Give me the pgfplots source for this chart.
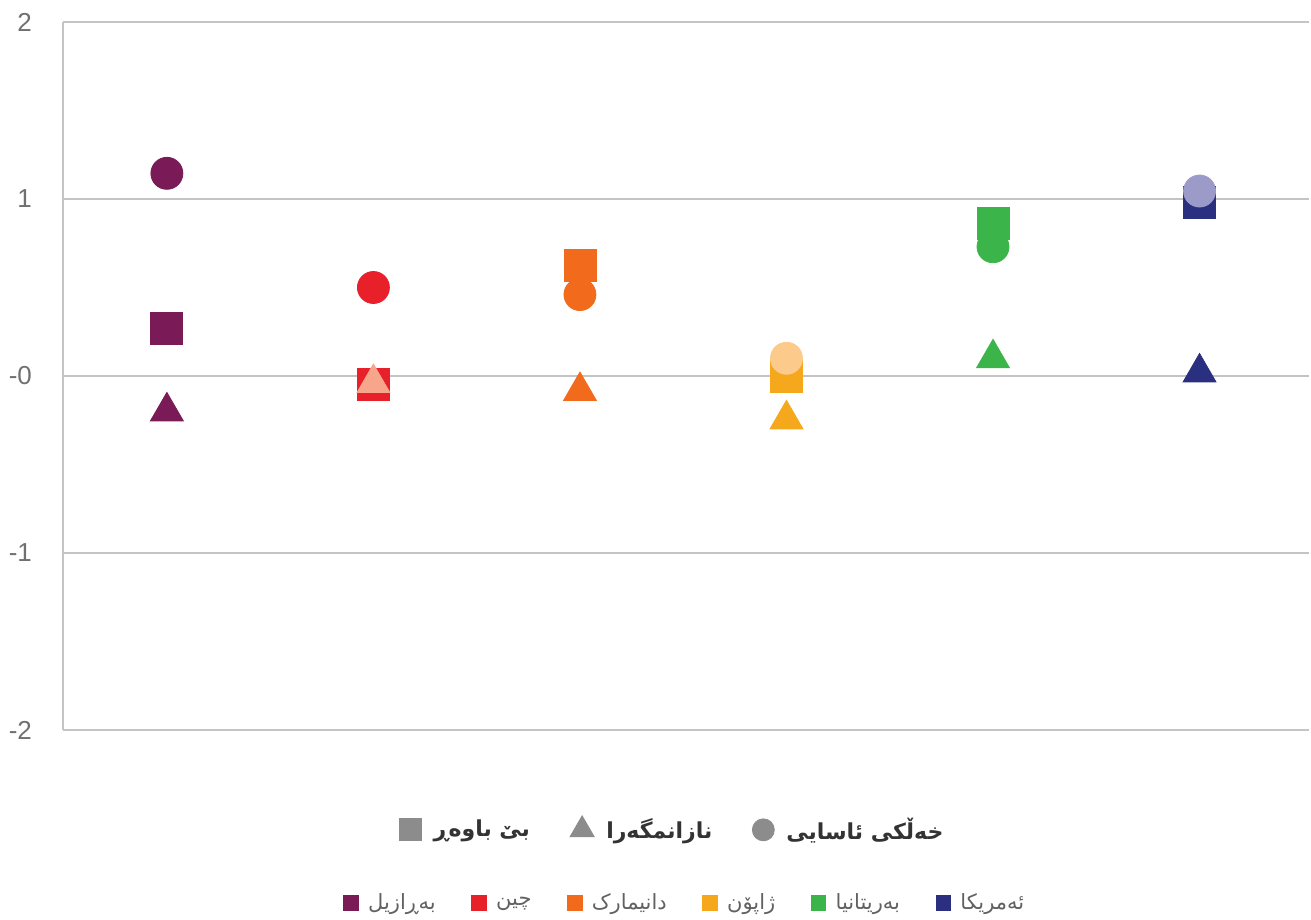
\documentclass[border=0pt]{standalone}
\usepackage{fontspec}
\setmainfont{Liberation Sans}
\newfontfamily\arabicfont[Script=Arabic]{DejaVu Sans}
\usepackage{pgfplots}
\pgfplotsset{compat=1.18}
\TeXXeTstate=1

\definecolor{cBR}{HTML}{7A1A57}
\definecolor{cCN}{HTML}{E8202A}
\definecolor{cDK}{HTML}{F26B1D}
\definecolor{cJP}{HTML}{F5A81C}
\definecolor{cGB}{HTML}{3BB44A}
\definecolor{cUS}{HTML}{2B2F7F}
\definecolor{cCNl}{HTML}{F7A68C}
\definecolor{cJPl}{HTML}{FCCB8C}
\definecolor{cUSl}{HTML}{9C9AC9}
\definecolor{gridgray}{HTML}{C4C4C4}
\definecolor{tickgray}{HTML}{707070}
\definecolor{leggray}{HTML}{8C8C8C}

\pgfplotstableread{
x y c
0 0.27 br
1 -0.045 cn
2 0.625 dk
3 0.0 jp
4 0.86 gb
5 0.98 us
}\squares
\pgfplotstableread{
x y c
0 -0.20 br
1 -0.04 cnl
2 -0.085 dk
3 -0.245 jp
4 0.10 gb
5 0.02 us
}\triangles
\pgfplotstableread{
x y c
0 1.145 br
1 0.50 cn
2 0.46 dk
3 0.10 jpl
4 0.73 gb
5 1.045 usl
}\circles

\begin{document}
\begin{tikzpicture}
\pgfplotsset{
  mystyle/.style={
    only marks, scatter, point meta=explicit symbolic,
    scatter/classes={
      br={draw=cBR,fill=cBR}, cn={draw=cCN,fill=cCN}, dk={draw=cDK,fill=cDK},
      jp={draw=cJP,fill=cJP}, gb={draw=cGB,fill=cGB}, us={draw=cUS,fill=cUS},
      cnl={draw=cCNl,fill=cCNl}, jpl={draw=cJPl,fill=cJPl}, usl={draw=cUSl,fill=cUSl}},
    forget plot}
}
\begin{axis}[
  scale only axis, width=623pt, height=354pt,
  xmin=-0.503, xmax=5.53, ymin=-2, ymax=2,
  axis lines*=left, axis line style={draw=gridgray, line width=1pt, -},
  xtick=\empty,
  ytick={-2,-1,0,1,2}, yticklabels={-2,-1,-0,1,2},
  ymajorgrids, grid style={draw=gridgray, line width=1pt},
  major tick length=0pt,
  yticklabel style={font=\fontsize{13}{15}\selectfont, text=tickgray, xshift=-12pt},
  clip=false,
  legend columns=3,
  legend style={at={(0.49,-0.141)}, anchor=center, draw=none, fill=none,
    font=\fontsize{11}{13}\selectfont\arabicfont\bfseries, text=black!80,
    /tikz/every even column/.append style={column sep=18pt},
    /tikz/every odd column/.append style={column sep=4pt}},
]
\addplot[mystyle, mark=square*, mark size=8pt] table[x=x, y=y, meta=c] {\squares};
\addplot[mystyle, mark=triangle*, mark size=9.5pt] table[x=x, y=y, meta=c] {\triangles};
\addplot[mystyle, mark=*, mark size=8pt] table[x=x, y=y, meta=c] {\circles};

\addlegendimage{only marks, mark=square*, mark size=5.5pt, leggray}
\addlegendentry{\beginR بێ باوەڕ\endR}
\addlegendimage{only marks, mark=triangle*, mark size=7pt, leggray}
\addlegendentry{\beginR نازانمگەرا\endR}
\addlegendimage{only marks, mark=*, mark size=5.5pt, leggray}
\addlegendentry{\beginR خەڵکی ئاسایی\endR}
\end{axis}

\begin{axis}[
  hide axis, scale only axis, width=623pt, height=354pt,
  xmin=0, xmax=1, ymin=0, ymax=1,
  legend columns=6,
  legend style={at={(0.5,-0.244)}, anchor=center, draw=none, fill=none,
    font=\fontsize{10.5}{12}\selectfont\arabicfont, text=black!62,
    /tikz/every even column/.append style={column sep=16pt},
    /tikz/every odd column/.append style={column sep=3pt}},
]
\addlegendimage{only marks, mark=square*, mark size=3.6pt, cBR}
\addlegendentry{\beginR بەڕازیل\endR}
\addlegendimage{only marks, mark=square*, mark size=3.6pt, cCN}
\addlegendentry{\beginR چین\endR}
\addlegendimage{only marks, mark=square*, mark size=3.6pt, cDK}
\addlegendentry{\beginR دانیمارک\endR}
\addlegendimage{only marks, mark=square*, mark size=3.6pt, cJP}
\addlegendentry{\beginR ژاپۆن\endR}
\addlegendimage{only marks, mark=square*, mark size=3.6pt, cGB}
\addlegendentry{\beginR بەریتانیا\endR}
\addlegendimage{only marks, mark=square*, mark size=3.6pt, cUS}
\addlegendentry{\beginR ئەمریکا\endR}
\end{axis}

\pgfresetboundingbox
\path[use as bounding box] (-31.5pt,-95pt) rectangle (624pt,365pt);
\end{tikzpicture}
\end{document}
